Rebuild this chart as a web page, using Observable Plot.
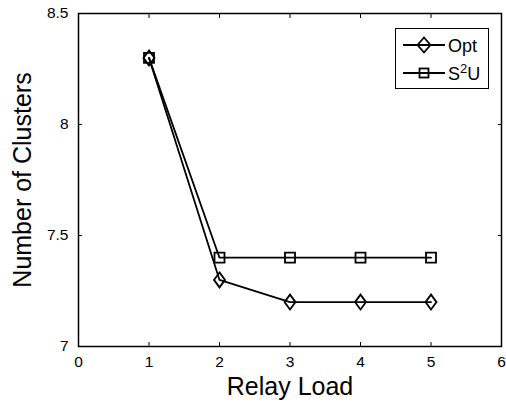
<!DOCTYPE html>
<html>
<head>
<meta charset="utf-8">
<script src="https://cdn.jsdelivr.net/npm/d3@7"></script>
<script src="https://cdn.jsdelivr.net/npm/@observablehq/plot@0.6"></script>
<style>
  html, body { margin: 0; padding: 0; background: #fff; }
  #wrap { position: relative; width: 506px; height: 402px; font-family: "Liberation Sans", Arial, sans-serif; }
  #legend { position: absolute; left: 395px; top: 28px; width: 94px; height: 61px; border: 1.3px solid #000; background: #fff; box-sizing: border-box; }
  #legend svg { position: absolute; left: 0; top: 0; display: block; }
</style>
</head>
<body>
<div id="wrap"></div>
<script>
const relayLoad = [1, 2, 3, 4, 5];
const optValues = [8.3, 7.3, 7.2, 7.2, 7.2];
const s2uValues = [8.3, 7.4, 7.4, 7.4, 7.4];
const xTicks = [0, 1, 2, 3, 4, 5, 6];
const yTicks = [7, 7.5, 8, 8.5];
const seriesNames = ["Opt", "S²U"];

const diamond = {draw(ctx, size) { const w = 5.5, h = 7.5; ctx.moveTo(0, -h); ctx.lineTo(w, 0); ctx.lineTo(0, h); ctx.lineTo(-w, 0); ctx.closePath(); }};
const square = {draw(ctx, size) { const s = 5; ctx.moveTo(-s, -s); ctx.lineTo(s, -s); ctx.lineTo(s, s); ctx.lineTo(-s, s); ctx.closePath(); }};

const opt = relayLoad.map((x, i) => ({x, y: optValues[i]}));
const s2u = relayLoad.map((x, i) => ({x, y: s2uValues[i]}));

const chart = Plot.plot({
  width: 506,
  height: 402,
  marginLeft: 78,
  marginRight: 5,
  marginTop: 13,
  marginBottom: 56,
  style: {fontFamily: "'Liberation Sans', Arial, sans-serif", background: "#fff", color: "#000", overflow: "visible"},
  x: {domain: [0, 6]},
  y: {domain: [7, 8.5]},
  marks: [
    Plot.axisX({anchor: "bottom", ticks: xTicks, tickSize: -4, tickPadding: 13, fontSize: 15.5, label: null, tickFormat: d => String(d), strokeWidth: 1}),
    Plot.axisX({anchor: "top", ticks: xTicks, tickSize: -4, tickFormat: () => "", label: null, strokeWidth: 1}),
    Plot.axisY({anchor: "left", ticks: yTicks, tickSize: -4, tickPadding: 14, fontSize: 15.5, label: null, tickFormat: d => String(d), strokeWidth: 1}),
    Plot.axisY({anchor: "right", ticks: yTicks, tickSize: -4, tickFormat: () => "", label: null, strokeWidth: 1}),
    Plot.frame({stroke: "#000", strokeWidth: 1.5}),
    Plot.line(opt, {x: "x", y: "y", stroke: "#000", strokeWidth: 1.8}),
    Plot.line(s2u, {x: "x", y: "y", stroke: "#000", strokeWidth: 1.8}),
    Plot.dot(opt, {x: "x", y: "y", symbol: () => diamond, stroke: "#000", strokeWidth: 1.8, fill: "none"}),
    Plot.dot(s2u, {x: "x", y: "y", symbol: () => square, stroke: "#000", strokeWidth: 1.8, fill: "none"}),
    Plot.text(["Relay Load"], {frameAnchor: "bottom", dy: 48, fontSize: 25, fill: "#000"}),
    Plot.text(["Number of Clusters"], {frameAnchor: "left", dx: -56, rotate: -90, textAnchor: "middle", fontSize: 25, fill: "#000"})
  ]
});

const wrap = document.getElementById("wrap");
wrap.appendChild(chart);

const legend = document.createElement("div");
legend.id = "legend";
const symPaths = [
  cy => `<path d="M28,${cy - 7.5} L34.5,${cy} L28,${cy + 7.5} L21.5,${cy} Z" fill="none" stroke="#000" stroke-width="1.8"/>`,
  cy => `<rect x="23.5" y="${cy - 4.5}" width="9" height="9" fill="none" stroke="#000" stroke-width="1.8"/>`
];
const labels = ["Opt", "S<tspan dy='-7' font-size='13'>2</tspan><tspan dy='7'>U</tspan>"];
let inner = "";
seriesNames.forEach((name, i) => {
  const cy = i === 0 ? 16 : 44;
  inner += `<line x1="7" x2="49" y1="${cy}" y2="${cy}" stroke="#000" stroke-width="1.8"/>${symPaths[i](cy)}<text x="52" y="${cy + 6.5}" font-size="18" fill="#000" font-family="'Liberation Sans', Arial, sans-serif">${labels[i]}</text>`;
});
legend.innerHTML = `<svg width="94" height="61">${inner}</svg>`;
wrap.appendChild(legend);
</script>
</body>
</html>
